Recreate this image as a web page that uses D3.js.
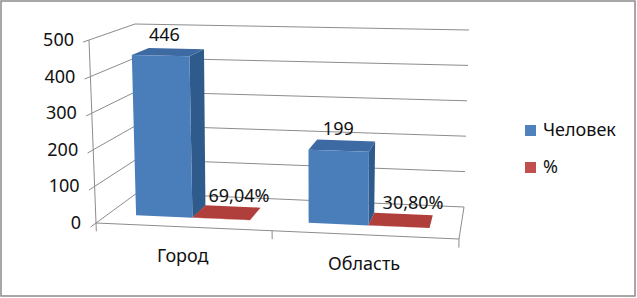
<!DOCTYPE html>
<html>
<head>
<meta charset="utf-8">
<script src="https://cdn.jsdelivr.net/npm/d3@7"></script>
<style>
  body { margin: 0; background: #fff; }
  text { font-family: "Noto Sans", sans-serif; font-size: 18px; fill: #111; }
</style>
</head>
<body>
<div id="chart"></div>
<script>
// Chart data.
var categories = ['Город', 'Область'];
var seriesNames = ['Человек', '%'];
var people = [446, 199];
var share = [0.6904, 0.3080];
var valueTicks = [0, 100, 200, 300, 400, 500];

// Canvas.
var WIDTH = 637;
var HEIGHT = 298;

// Screen position of the plot box corners, indexed [u][v][w].
// u: along categories, v: value, w: depth (0 front, 1 back).
var BOX = [
  [[[96, 223], [137, 193]], [[89, 40], [135, 24]]],
  [[[459, 239], [464, 207]], [[462, 47], [469, 30]]]
];
// Foreshortening along the category direction.
var PERSPECTIVE = 0.942;

// Bar depth inside the box.
var DEPTH = [0.3, 0.7];

var GRID = '#8c8c8c';
var FACE_COLORS = [
  {front: '#4a7ebb', side: '#2f5a8c', top: '#3d6aa3'},
  {front: '#c0504d', side: '#8e3532', top: '#b03e3a'}
];
var LEGEND_COLORS = ['#4f81bd', '#c0504d'];

// Trilinear mapping of the box to the screen.
function project(pt) {
  var k = PERSPECTIVE;
  var u = k * pt[0] / (1 + (k - 1) * pt[0]), v = pt[1], w = pt[2];
  var out = [0, 0];
  for (var a = 0; a < 2; a++) {
    for (var b = 0; b < 2; b++) {
      for (var c = 0; c < 2; c++) {
        var f = (a ? u : 1 - u) * (b ? v : 1 - v) * (c ? w : 1 - w);
        out[0] += f * BOX[a][b][c][0];
        out[1] += f * BOX[a][b][c][1];
      }
    }
  }
  return out;
}

// Scales.
var x = d3.scaleBand().domain(categories).range([0, 1])
  .paddingInner(1 / 3).paddingOuter(1 / 6);
var xs = d3.scaleBand().domain(seriesNames).range([0, x.bandwidth()]);
var y = d3.scaleLinear().domain([0, 500]).range([0, 1]);

var line = d3.line();
function seg(a, b) { return line([project(a), project(b)]); }
function face(pts) { return line(pts.map(project)) + 'Z'; }

var svg = d3.select('#chart').append('svg')
  .attr('width', WIDTH)
  .attr('height', HEIGHT);

svg.append('rect')
  .attr('x', 1).attr('y', 1)
  .attr('width', WIDTH - 3).attr('height', HEIGHT - 3)
  .attr('fill', '#fff')
  .attr('stroke', '#8a8a8a')
  .attr('stroke-width', 1.5);

// Walls: gridlines on the left and back walls.
var grid = svg.append('g')
  .attr('fill', 'none')
  .attr('stroke', GRID)
  .attr('stroke-width', 1);
valueTicks.forEach(function(t) {
  var v = y(t);
  grid.append('path').attr('d', seg([0, v, 0], [0, v, 1]));
  grid.append('path').attr('d', seg([0, v, 1], [1, v, 1]));
  grid.append('path').attr('d', seg([0, v, 0], [0, v, -0.13]));
});
// Axes and floor edges.
grid.append('path').attr('d', seg([0, 0, 0], [0, 1, 0]));
grid.append('path').attr('d', seg([0, 0, 0], [1, 0, 0]));
grid.append('path').attr('d', seg([1, 0, 0], [1, 0, 1]));
[0, 0.5, 1].forEach(function(u) {
  grid.append('path').attr('d', seg([u, 0, 0], [u, -0.045, 0]));
});

// Value axis labels.
svg.append('g').selectAll('text')
  .data(valueTicks)
  .enter().append('text')
  .attr('text-anchor', 'end')
  .attr('x', function(t) { return project([0, y(t), 0])[0] - 15; })
  .attr('y', function(t) { return project([0, y(t), 0])[1] + 6; })
  .text(function(t) { return t; });

// Category labels.
svg.append('g').selectAll('text')
  .data(categories)
  .enter().append('text')
  .attr('text-anchor', 'middle')
  .attr('x', function(c) { return project([x(c) + x.bandwidth() / 2, 0, 0])[0]; })
  .attr('y', function(c) { return project([x(c) + x.bandwidth() / 2, 0, 0])[1] + 35; })
  .text(function(c) { return c; });

// Bars.
var ruFormat = d3.formatLocale({decimal: ',', thousands: ' ', grouping: [3], currency: ['', '']});
var series = [
  {name: seriesNames[0], values: people, label: d3.format('d'), dx: -4},
  {name: seriesNames[1], values: share, label: ruFormat.format('.2%'), dx: 12}
];
var bars = [];
categories.forEach(function(c, i) {
  series.forEach(function(s, si) {
    bars.push({
      u0: x(c) + xs(s.name),
      u1: x(c) + xs(s.name) + xs.bandwidth(),
      v: y(s.values[i]),
      colors: FACE_COLORS[si],
      text: s.label(s.values[i]),
      dx: s.dx
    });
  });
});

var z0 = DEPTH[0], z1 = DEPTH[1];
var barG = svg.append('g').selectAll('g')
  .data(bars)
  .enter().append('g');
barG.append('path')
  .attr('fill', function(d) { return d.colors.side; })
  .attr('d', function(d) {
    return face([[d.u1, 0, z0], [d.u1, 0, z1], [d.u1, d.v, z1], [d.u1, d.v, z0]]);
  });
barG.append('path')
  .attr('fill', function(d) { return d.colors.top; })
  .attr('d', function(d) {
    return face([[d.u0, d.v, z0], [d.u1, d.v, z0], [d.u1, d.v, z1], [d.u0, d.v, z1]]);
  });
barG.append('path')
  .attr('fill', function(d) { return d.colors.front; })
  .attr('d', function(d) {
    return face([[d.u0, 0, z0], [d.u1, 0, z0], [d.u1, d.v, z0], [d.u0, d.v, z0]]);
  });

// Data labels.
svg.append('g').selectAll('text')
  .data(bars)
  .enter().append('text')
  .attr('text-anchor', 'middle')
  .attr('x', function(d) { return project([(d.u0 + d.u1) / 2, d.v, 0.5])[0] + d.dx; })
  .attr('y', function(d) { return project([(d.u0 + d.u1) / 2, d.v, 0.5])[1] - 11; })
  .text(function(d) { return d.text; });

// Legend.
var legend = svg.append('g').selectAll('g')
  .data(seriesNames)
  .enter().append('g')
  .attr('transform', function(d, i) { return 'translate(525,' + (125 + i * 37) + ')'; });
legend.append('rect')
  .attr('width', 11).attr('height', 11)
  .attr('fill', function(d, i) { return LEGEND_COLORS[i]; });
legend.append('text')
  .attr('x', 18).attr('y', 11)
  .text(function(d) { return d; });
</script>
</body>
</html>
